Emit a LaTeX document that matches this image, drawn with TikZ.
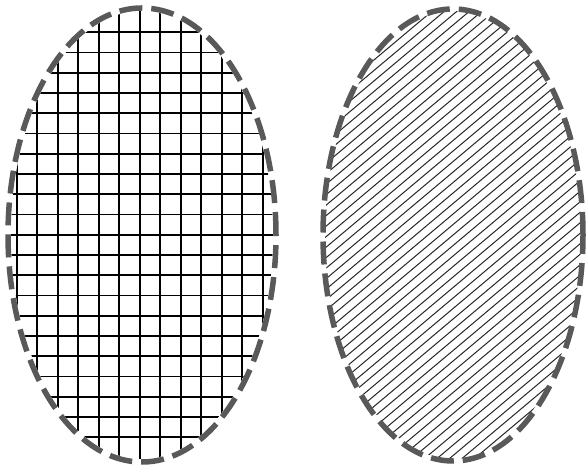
\documentclass[tikz,border=0pt]{standalone}
\usetikzlibrary{calc}
\tikzset{
  rim/.style={draw=black!65,line width=5.5pt,dash pattern=on 23pt off 9pt},
  gridline/.style={draw=black,line width=1.8pt},
  hatchline/.style={draw=black!85,line width=1pt},
}
\begin{document}
\begin{tikzpicture}[x=1pt,y=1pt]
  \useasboundingbox (0,0) rectangle (586,468);
  \coordinate (lc) at (142,233);
  \coordinate (rc) at (453,233);
  % left blank: square mesh
  \begin{scope}
    \clip (lc) ellipse [x radius=131,y radius=224];
    \foreach \x in {0,...,12} \draw[gridline] ({16.7+20.5*\x},0) -- ({16.7+20.5*\x},468);
    \foreach \y in {0,...,20} \draw[gridline] (0,{435.7-20.25*\y}) -- (290,{435.7-20.25*\y});
  \end{scope}
  \draw[rim] (lc) ellipse [x radius=134,y radius=227];
  % right blank: hatching
  \begin{scope}
    \clip (rc) ellipse [x radius=128,y radius=224];
    \foreach \c in {-240,-229.5,...,470} \draw[hatchline] (315,\c) -- (590,{\c+231});
  \end{scope}
  \draw[rim] (rc) ellipse [x radius=130,y radius=226];
\end{tikzpicture}
\end{document}
